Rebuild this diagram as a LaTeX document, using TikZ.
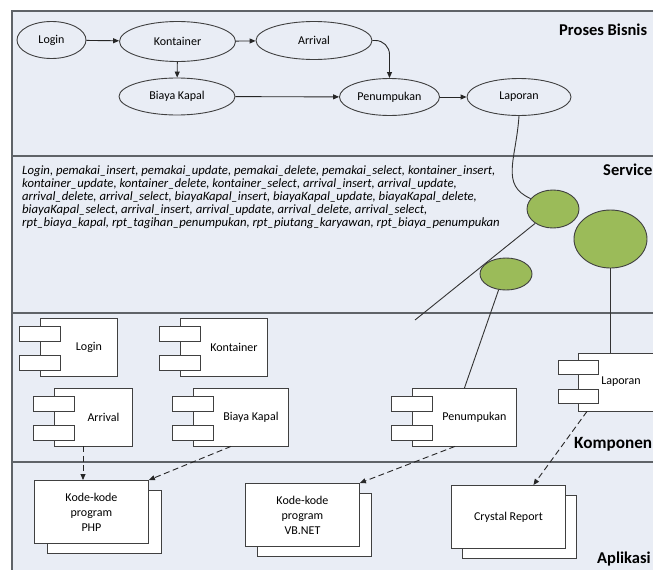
\documentclass[tikz,border=0pt]{standalone}
\usepackage{fontspec}
\setmainfont{Carlito}
\usetikzlibrary{shapes.geometric,arrows.meta,calc}
\definecolor{lanefill}{HTML}{E9EDF5}
\definecolor{svcgreen}{HTML}{9BBB59}
\definecolor{laneline}{HTML}{5F6368}
\newcommand{\compbox}[5]{%
  \node[compbody, minimum width=#4pt] (#1) at (#2,#3) {};
  \draw[comptab] ($(#1.north west)+(-21,8)$) rectangle ++(41,15);
  \draw[comptab] ($(#1.north west)+(-21,37)$) rectangle ++(41,15);
  \node[complabel] (#1-label) at ($(#1.center)+(10,0)$) {#5};
}
\begin{document}
\begin{tikzpicture}[x=1pt,y=-1pt,
  lane/.style={draw=laneline, line width=1.6pt, fill=lanefill},
  proc/.style={ellipse, draw=black!75, line width=0.9pt, fill=lanefill, inner sep=0pt, font=\fontsize{12}{14}\selectfont},
  flow/.style={draw=black!85, line width=0.9pt, -{Triangle[length=6pt,width=5pt]}},
  svc/.style={ellipse, draw=black!75, line width=0.9pt, fill=svcgreen, inner sep=0pt},
  link/.style={draw=black!80, line width=0.9pt},
  compbody/.style={rectangle, draw=black!75, line width=0.9pt, fill=white, inner sep=0pt, anchor=north west, minimum height=57.5pt},
  comptab/.style={draw=black!75, line width=0.9pt, fill=white},
  complabel/.style={inner sep=0pt, font=\fontsize{12}{14}\selectfont},
  dep/.style={draw=black!85, line width=0.9pt, dash pattern=on 6pt off 3.5pt, -{Triangle[length=6pt,width=5pt]}},
  doc/.style={rectangle, draw=black!75, line width=0.9pt, fill=white, anchor=north west, inner sep=0pt, align=center, minimum width=114pt, minimum height=63pt, font=\fontsize{12}{15}\selectfont},
  lanelabel/.style={anchor=base west, inner sep=0pt, font=\bfseries\fontsize{16.5}{19}\selectfont},
]
\useasboundingbox (0,0) rectangle (653,570);
\clip (0,0) rectangle (653,570);

% swimlanes
\draw[lane] (12,11) rectangle (700,156);
\draw[lane] (12,156) rectangle (700,313);
\draw[lane] (12,313) rectangle (700,462);
\draw[lane] (12,462) rectangle (700,600);

% lane labels
\node[lanelabel] (lbl-proses) at (559,35) {Proses Bisnis};
\node[lanelabel] (lbl-svc) at (603,175) {Service};
\node[lanelabel, font=\bfseries\fontsize{17.2}{20}\selectfont] (lbl-komp) at (574,448) {Komponen};
\node[lanelabel] (lbl-app) at (597,563) {Aplikasi};

% business processes
\node[proc, minimum width=69pt, minimum height=37pt] (login) at (51.5,40) {Login};
\node[proc, minimum width=116pt, minimum height=40pt] (kontainer) at (177.5,41.5) {Kontainer};
\node[proc, minimum width=116pt, minimum height=38pt] (arrival) at (314,40.5) {Arrival};
\node[proc, minimum width=116pt, minimum height=37pt] (biaya) at (177,96.5) {Biaya Kapal};
\node[proc, minimum width=100pt, minimum height=37pt] (penumpukan) at (389.5,97) {Penumpukan};
\node[proc, minimum width=104pt, minimum height=37pt] (laporan) at (519,97) {Laporan};

\draw[flow] (login) -- (kontainer);
\draw[flow] (kontainer) -- (arrival);
\draw[flow] (kontainer) -- (biaya);
\draw[flow] (biaya) -- (penumpukan);
\draw[flow] (penumpukan) -- (laporan);
\draw[flow, rounded corners=14pt] (arrival.east) -| (penumpukan.north);

% services
\node[anchor=north west, align=left, inner sep=0pt, font=\itshape\fontsize{12.7}{13.2}\selectfont] (svc-list) at (22,165) {%
Login, pemakai\_insert, pemakai\_update, pemakai\_delete, pemakai\_select, kontainer\_insert,\\
kontainer\_update, kontainer\_delete, kontainer\_select, arrival\_insert, arrival\_update,\\
arrival\_delete, arrival\_select, biayaKapal\_insert, biayaKapal\_update, biayaKapal\_delete,\\
biayaKapal\_select, arrival\_insert, arrival\_update, arrival\_delete, arrival\_select,\\
rpt\_biaya\_kapal, rpt\_tagihan\_penumpukan, rpt\_piutang\_karyawan, rpt\_biaya\_penumpukan};

\node[svc, minimum width=52pt, minimum height=38pt] (c1) at (553,209) {};
\node[svc, minimum width=73pt, minimum height=58pt] (c2) at (610.5,239) {};
\node[svc, minimum width=52pt, minimum height=32pt] (c3) at (506,274) {};

% components
\compbox{c-login}{40}{318}{77}{Login}
\compbox{c-kont}{180}{318}{87}{Kontainer}
\compbox{c-arr}{54}{388}{78}{Arrival}
\compbox{c-biaya}{193}{388}{95}{Biaya Kapal}
\compbox{c-pen}{412}{388}{104}{Penumpukan}
\node[compbody, minimum width=130pt] (c-lap) at (578,353) {};
\draw[comptab] ($(c-lap.north west)+(-20,7)$) rectangle ++(40,14.5);
\draw[comptab] ($(c-lap.north west)+(-20,36)$) rectangle ++(40,14.5);
\node[complabel] (c-lap-label) at (621,381.5) {Laporan};

% links services - processes - components
\coordinate (c1-end) at (415,320);
\draw[link] (laporan.south) .. controls (516,160) and (500,185) .. (c1.155);
\draw[link] (c1) -- (c1-end);
\draw[link] (c3.245) -- (c-pen.north);
\draw[link] (c2.south) -- (c2.south |- c-lap.north);

% applications
\node[doc] (php-back) at (47,490) {};
\node[doc] (php) at (34,480) {Kode-kode\\program\\PHP};
\node[doc] (vb-back) at (257,493) {};
\node[doc] (vb) at (245,483) {Kode-kode\\program\\VB.NET};
\node[doc] (cr-back) at (462,495) {};
\node[doc] (cr) at (451,485) {Crystal Report};

% dependencies
\coordinate (arr-out) at ($(c-arr.south west)+(29,0)$);
\coordinate (biaya-out) at ($(c-biaya.south west)+(38,0)$);
\coordinate (pen-out) at ($(c-pen.south west)+(43,0)$);
\coordinate (lap-out) at ($(c-lap.south west)+(9,0)$);
\coordinate (cr-in) at ($(cr.north)+(25,0)$);
\draw[dep] (arr-out) -- (arr-out |- php.north);
\draw[dep] (biaya-out) -- (php.north east);
\draw[dep] (pen-out) -- (vb.north east);
\draw[dep] (lap-out) -- (cr-in);
\end{tikzpicture}
\end{document}
